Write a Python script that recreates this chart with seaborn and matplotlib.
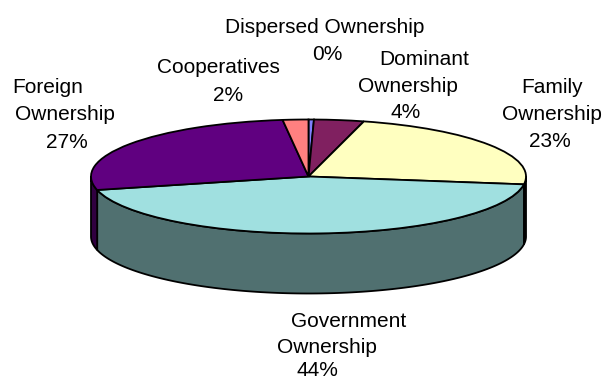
import numpy as np
import matplotlib
matplotlib.use("Agg")
import matplotlib.pyplot as plt
import seaborn as sns

categories = ["Dispersed Ownership", "Dominant Ownership", "Family Ownership",
              "Government Ownership", "Foreign Ownership", "Cooperatives"]
shares = [0.4, 3.7, 23.1, 44.0, 26.9, 1.9]
top_colors = ["#8080FF", "#802060", "#FFFFC0", "#A0E0E0", "#600080", "#FF8080"]
side_colors = ["#404080", "#401030", "#101010", "#507070", "#300040", "#804040"]

# Wrapped label lines with centre x and baseline y in pixels from the top left
label_lines = [
    ["Dispersed Ownership"],
    ["Dominant", "Ownership"],
    ["Family", "Ownership"],
    ["Government", "Ownership"],
    ["Foreign", "Ownership"],
    ["Cooperatives"],
]
label_anchors = [
    [(325, 33), (327, 60)],
    [(424, 65), (408, 92), (406, 118)],
    [(552, 93), (552, 120), (550, 147)],
    [(349, 327), (327, 353), (317, 376)],
    [(48, 93), (65, 120), (67, 148)],
    [(218, 73), (228, 101)],
]

WIDTH, HEIGHT = 610, 380
CX, CY = 308.5, 176.5
RX, RY = 217.5, 57.0
DEPTH = 60.0 / RY

sns.set_theme(style="white")
plt.rcParams["font.family"] = ["Liberation Sans", "DejaVu Sans"]

fig = plt.figure(figsize=(WIDTH / 100, HEIGHT / 100), dpi=100)
ax = fig.add_axes([0, 0, 1, 1])

ax.pie(shares, colors=top_colors, startangle=90, counterclock=False,
       wedgeprops={"edgecolor": "black", "linewidth": 1.3, "zorder": 3})
ax.set_aspect("auto")
ax.set_xlim(-CX / RX, (WIDTH - CX) / RX)
ax.set_ylim((CY - HEIGHT) / RY, CY / RY)

# Rim of the disc: only the part of each slice facing the viewer is drawn
edges = np.concatenate([[0], np.cumsum(shares)]) / np.sum(shares) * 360
for start, stop, color in zip(edges[:-1], edges[1:], side_colors):
    lo, hi = max(start, 90), min(stop, 270)
    if hi <= lo:
        continue
    theta = np.radians(np.linspace(lo, hi, 120))
    x, y = np.sin(theta), np.cos(theta)
    ax.fill(np.r_[x, x[::-1]], np.r_[y, y[::-1] - DEPTH],
            facecolor=color, edgecolor="black", linewidth=1.3, zorder=2)

# Category text followed by the rounded share, one line at a time
for lines, anchors, share in zip(label_lines, label_anchors, shares):
    for text, (px, py) in zip(lines + [f"{share:.0f}%"], anchors):
        ax.text((px - CX) / RX, (CY - py) / RY, text, ha="center", va="baseline",
                fontsize=15, color="black", zorder=5)

fig.savefig("out.png", dpi=100, facecolor="white")
